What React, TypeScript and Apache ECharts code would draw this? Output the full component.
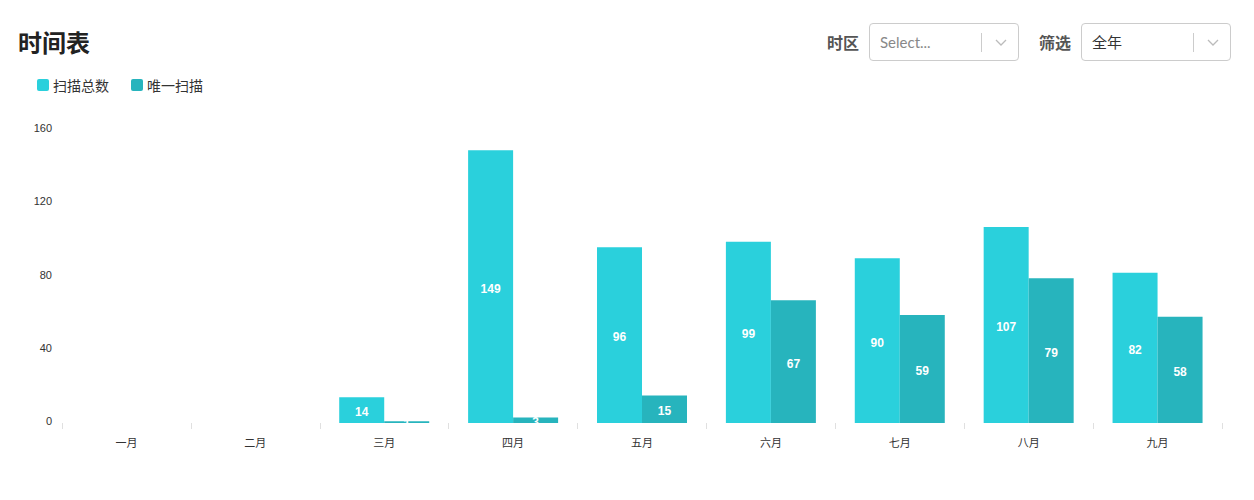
import React, { useEffect, useRef } from "react";
import * as echarts from "echarts";

const categories = ["一月", "二月", "三月", "四月", "五月", "六月", "七月", "八月", "九月"];
const totalScans = [0, 0, 14, 149, 96, 99, 90, 107, 82];
const uniqueScans = [0, 0, 1, 3, 15, 67, 59, 79, 58];
const seriesNames = ["扫描总数", "唯一扫描"];
const titleText = "时间表";

const FONT = "'Noto Sans CJK SC', 'Noto Sans', sans-serif";
const NUMFONT = "'Liberation Sans', Arial, sans-serif";
const ICON = "path://M2,0 L10,0 Q12,0 12,2 L12,10 Q12,12 10,12 L2,12 Q0,12 0,10 L0,2 Q0,0 2,0 Z";

function Select({ left, text, color }: { left: number; text: string; color: string }) {
  return (
    <div
      style={{
        position: "absolute",
        left,
        top: 23,
        width: 148,
        height: 36,
        border: "1px solid #cccccc",
        borderRadius: 4,
        background: "#fff",
        boxSizing: "content-box",
      }}
    >
      <span
        style={{
          position: "absolute",
          left: 10,
          top: 0,
          lineHeight: "36px",
          fontSize: 15,
          color,
          fontFamily: "Lato, 'Noto Sans CJK SC', sans-serif",
        }}
      >
        {text}
      </span>
      <div style={{ position: "absolute", left: 111, top: 9, width: 1, height: 19, background: "#cccccc" }} />
      <svg style={{ position: "absolute", left: 124, top: 13 }} width="14" height="10" viewBox="0 0 14 10">
        <polyline points="2,3 7,8 12,3" fill="none" stroke="#bbbbbb" strokeWidth="1.3" />
      </svg>
    </div>
  );
}

export default function App() {
  const ref = useRef<HTMLDivElement>(null);
  useEffect(() => {
    document.body.style.margin = "0";
    const chart = echarts.init(ref.current!, null, { renderer: "svg" });
    const labelStyle = {
      show: true,
      position: "inside" as const,
      offset: [0, 2],
      color: "#fff",
      fontWeight: "bold" as const,
      fontSize: 12,
      fontFamily: NUMFONT,
    };
    chart.setOption({
      animation: false,
      textStyle: { fontFamily: FONT },
      title: {
        text: titleText,
        left: 13,
        top: 24,
        textStyle: { fontSize: 24, fontWeight: "bold", color: "#222", fontFamily: FONT },
      },
      legend: {
        left: 32,
        top: 73,
        itemWidth: 12,
        itemHeight: 12,
        itemGap: 22,
        icon: ICON,
        textStyle: { fontSize: 14, color: "#333", fontFamily: FONT, padding: [0, 0, 0, -1] },
        data: seriesNames,
      },
      grid: { left: 62, right: 32, top: 130, bottom: 77 },
      xAxis: {
        type: "category",
        data: categories,
        axisLine: { show: false },
        axisTick: { show: true, length: 6, lineStyle: { color: "#e0e0e0" } },
        axisLabel: { color: "#333", fontSize: 11, margin: 13 },
      },
      yAxis: {
        type: "value",
        min: 0,
        max: 160,
        interval: 40,
        axisLine: { show: false },
        axisTick: { show: false },
        splitLine: { show: false },
        axisLabel: {
          margin: 10,
          formatter: (v: number) => `{a|${v}}`,
          rich: {
            a: { color: "#333", fontSize: 11, fontFamily: NUMFONT, padding: [0, 0, 4, 0] },
          },
        },
      },
      series: [
        {
          name: seriesNames[0],
          type: "bar",
          data: totalScans.map((v) => (v === 0 ? null : v)),
          barWidth: 45,
          barGap: "0%",
          itemStyle: { color: "#2ad0dc" },
          label: labelStyle,
        },
        {
          name: seriesNames[1],
          type: "bar",
          data: uniqueScans.map((v) => (v === 0 ? null : v)),
          barWidth: 45,
          barGap: "0%",
          itemStyle: { color: "#27b4bd" },
          label: labelStyle,
        },
      ],
    });
    return () => chart.dispose();
  }, []);

  return (
    <div style={{ position: "relative", width: 1254, height: 500, background: "#fff" }}>
      <div ref={ref} style={{ position: "absolute", left: 0, top: 0, width: 1254, height: 500 }} />
      <span
        style={{
          position: "absolute",
          left: 827,
          top: 30,
          fontSize: 16,
          fontWeight: "bold",
          color: "#555",
          fontFamily: FONT,
          lineHeight: "24px",
        }}
      >
        时区
      </span>
      <Select left={869} text="Select..." color="#888" />
      <span
        style={{
          position: "absolute",
          left: 1039,
          top: 30,
          fontSize: 16,
          fontWeight: "bold",
          color: "#555",
          fontFamily: FONT,
          lineHeight: "24px",
        }}
      >
        筛选
      </span>
      <Select left={1081} text="全年" color="#333" />
    </div>
  );
}
